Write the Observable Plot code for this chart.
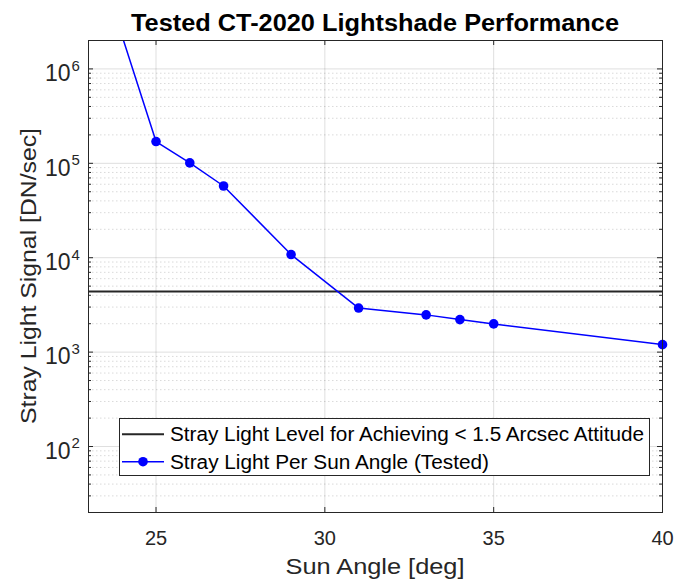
<!DOCTYPE html>
<html><head><meta charset="utf-8">
<script src="https://cdn.jsdelivr.net/npm/d3@7"></script>
<script src="https://cdn.jsdelivr.net/npm/@observablehq/plot@0.6"></script>
<style>
body{margin:0;background:#fff;}
#chart{width:676px;height:582px;}
#chart svg{display:block;font-family:"Liberation Sans",Arial,sans-serif;}
</style></head><body><div id="chart"></div>
<script>
// ---- data ----
const sunAngle   = [24, 25, 26, 27, 29, 31, 33, 34, 35, 40];
const strayLight = [2.2e6, 1.70e5, 1.01e5, 5.75e4, 1.08e4, 2.93e3, 2.48e3, 2.21e3, 1.99e3, 1.20e3];
const thresholdLevel = [4400];
const xTicks = [25, 30, 35, 40];
const xGridTicks = [25, 30, 35];
const yMajorTicks = [1e2, 1e3, 1e4, 1e5, 1e6];
const yExponents = ["2", "3", "4", "5", "6"];
const yMinorTicks = [30,40,50,60,70,80,90, 200,300,400,500,600,700,800,900,
  2e3,3e3,4e3,5e3,6e3,7e3,8e3,9e3, 2e4,3e4,4e4,5e4,6e4,7e4,8e4,9e4,
  2e5,3e5,4e5,5e5,6e5,7e5,8e5,9e5];
const titleText = "Tested CT-2020 Lightshade Performance";
const xLabelText = "Sun Angle [deg]";
const yLabelText = "Stray Light Signal [DN/sec]";
const legendLabels = ["Stray Light Level for Achieving < 1.5 Arcsec Attitude", "Stray Light Per Sun Angle (Tested)"];

// ---- layout ----
const W = 676, H = 582, mL = 88, mR = 14, mT = 40, mB = 70;
const fw = W - mL - mR, fh = H - mT - mB;
const yMax = 2e6, yMin = 20;
const axisColor = "#262626";
const blue = "#0000ff";

const rows = sunAngle.map((x, i) => ({x, y: strayLight[i]}));

const plot = Plot.plot({
  width: W, height: H,
  marginLeft: mL, marginRight: mR, marginTop: mT, marginBottom: mB,
  style: {fontFamily: "Liberation Sans, Arial, sans-serif", background: "white", overflow: "visible"},
  x: {domain: [23, 40], axis: null},
  y: {type: "log", domain: [yMin, yMax], axis: null},
  marks: [
    Plot.ruleY(yMinorTicks, {stroke: axisColor, strokeOpacity: 0.17, strokeDasharray: "1.5,2.5"}),
    Plot.ruleY(yMajorTicks, {stroke: axisColor, strokeOpacity: 0.15}),
    Plot.ruleX(xGridTicks, {stroke: axisColor, strokeOpacity: 0.15}),
    Plot.tickY(yMajorTicks, {insetRight: fw - 5, stroke: axisColor}),
    Plot.tickY(yMajorTicks, {insetLeft: fw - 5, stroke: axisColor}),
    Plot.tickY(yMinorTicks, {insetRight: fw - 3, stroke: axisColor}),
    Plot.tickY(yMinorTicks, {insetLeft: fw - 3, stroke: axisColor}),
    Plot.tickX(xTicks, {insetTop: fh - 5, stroke: axisColor}),
    Plot.tickX(xTicks, {insetBottom: fh - 5, stroke: axisColor}),
    Plot.ruleY(thresholdLevel, {stroke: axisColor, strokeWidth: 2}),
    Plot.line(rows, {x: "x", y: "y", stroke: blue, strokeWidth: 1.5, clip: true}),
    Plot.dot(rows.filter(d => d.y <= yMax), {x: "x", y: "y", r: 4.8, fill: blue, stroke: null}),
    Plot.frame({stroke: axisColor, strokeWidth: 1}),
    Plot.axisX(xTicks, {tickSize: 0, tickPadding: 18, fontSize: 20, color: axisColor, label: null}),
    Plot.text(yMajorTicks, {y: d => d, frameAnchor: "left", text: () => "10", textAnchor: "end", dx: -18, dy: 5, fontSize: 23, fill: axisColor}),
    Plot.text(yMajorTicks, {y: d => d, frameAnchor: "left", text: (d, i) => yExponents[i], textAnchor: "start", dx: -17, dy: -3, fontSize: 15, fill: axisColor})
  ]
});
document.getElementById("chart").appendChild(plot);

const svg = d3.select(plot);
// title
svg.append("text").attr("x", (mL + W - mR) / 2).attr("y", 31)
  .attr("text-anchor", "middle").attr("font-size", 23).attr("font-weight", "bold")
  .attr("fill", "#000").attr("textLength", 488).attr("lengthAdjust", "spacingAndGlyphs")
  .text(titleText);
// x label
svg.append("text").attr("x", (mL + W - mR) / 2).attr("y", 574)
  .attr("text-anchor", "middle").attr("font-size", 22).attr("fill", axisColor)
  .attr("textLength", 179).attr("lengthAdjust", "spacingAndGlyphs")
  .text(xLabelText);
// y label
svg.append("text").attr("transform", `translate(36,${mT + fh / 2}) rotate(-90)`)
  .attr("text-anchor", "middle").attr("font-size", 22).attr("fill", axisColor)
  .attr("textLength", 296).attr("lengthAdjust", "spacingAndGlyphs")
  .text(yLabelText);
// legend
const lg = svg.append("g");
lg.append("rect").attr("x", 119.5).attr("y", 418.5).attr("width", 530).attr("height", 57)
  .attr("fill", "white").attr("stroke", axisColor).attr("stroke-width", 1);
const rowY = [434.3, 461.7];
lg.append("line").attr("x1", 122).attr("x2", 164).attr("y1", rowY[0]).attr("y2", rowY[0])
  .attr("stroke", axisColor).attr("stroke-width", 2);
lg.append("line").attr("x1", 122).attr("x2", 164).attr("y1", rowY[1]).attr("y2", rowY[1])
  .attr("stroke", blue).attr("stroke-width", 1.5);
lg.append("circle").attr("cx", 143).attr("cy", rowY[1]).attr("r", 4.8).attr("fill", blue);
const legendWidths = [474, 319];
legendLabels.forEach((t, i) => {
  lg.append("text").attr("x", 170).attr("y", rowY[i]).attr("dy", "0.35em")
    .attr("text-anchor", "start").attr("font-size", 20).attr("fill", "#000")
    .attr("textLength", legendWidths[i]).attr("lengthAdjust", "spacingAndGlyphs")
    .text(t);
});
</script></body></html>
